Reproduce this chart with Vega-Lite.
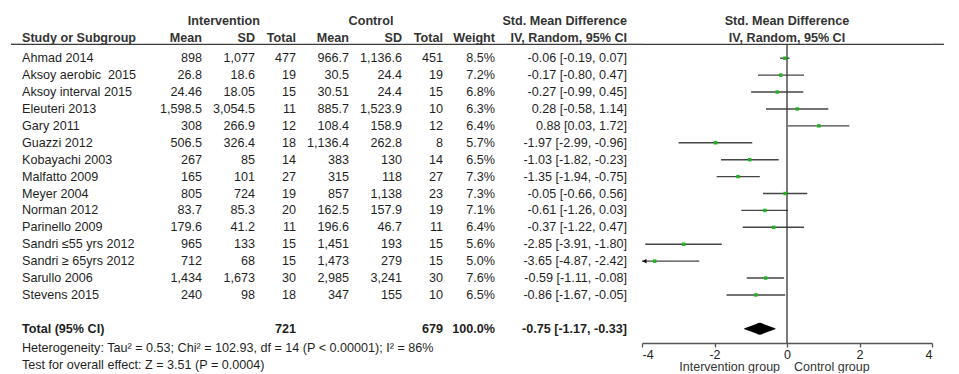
{
  "$schema": "https://vega.github.io/schema/vega-lite/v6.json",
  "description": "Forest plot: exercise intervention vs control, standardised mean difference (IV, random effects).",
  "background": "white",
  "padding": {"left": 10, "right": 16, "top": 0, "bottom": 0},
  "spacing": 0,
  "bounds": "flush",
  "config": {
    "view": {"stroke": null},
    "text": {"font": "Liberation Sans", "fontSize": 12.6, "color": "#1f1f1f"},
    "locale": {"number": {"decimal": ".", "thousands": ",", "grouping": [3], "currency": ["$", ""], "minus": "-"}}
  },
  "datasets": {
    "studies": [
      {"row": "Ahmad 2014", "im": 898, "isd": 1077, "itot": 477, "cm": 966.7, "csd": 1136.6, "ctot": 451, "weight": 8.5, "smd": -0.06, "lo": -0.19, "hi": 0.07},
      {"row": "Aksoy aerobic\u00a0 2015", "im": 26.8, "isd": 18.6, "itot": 19, "cm": 30.5, "csd": 24.4, "ctot": 19, "weight": 7.2, "smd": -0.17, "lo": -0.80, "hi": 0.47},
      {"row": "Aksoy interval 2015", "im": 24.46, "isd": 18.05, "itot": 15, "cm": 30.51, "csd": 24.4, "ctot": 15, "weight": 6.8, "smd": -0.27, "lo": -0.99, "hi": 0.45},
      {"row": "Eleuteri 2013", "im": 1598.5, "isd": 3054.5, "itot": 11, "cm": 885.7, "csd": 1523.9, "ctot": 10, "weight": 6.3, "smd": 0.28, "lo": -0.58, "hi": 1.14},
      {"row": "Gary 2011", "im": 308, "isd": 266.9, "itot": 12, "cm": 108.4, "csd": 158.9, "ctot": 12, "weight": 6.4, "smd": 0.88, "lo": 0.03, "hi": 1.72},
      {"row": "Guazzi 2012", "im": 506.5, "isd": 326.4, "itot": 18, "cm": 1136.4, "csd": 262.8, "ctot": 8, "weight": 5.7, "smd": -1.97, "lo": -2.99, "hi": -0.96},
      {"row": "Kobayachi 2003", "im": 267, "isd": 85, "itot": 14, "cm": 383, "csd": 130, "ctot": 14, "weight": 6.5, "smd": -1.03, "lo": -1.82, "hi": -0.23},
      {"row": "Malfatto 2009", "im": 165, "isd": 101, "itot": 27, "cm": 315, "csd": 118, "ctot": 27, "weight": 7.3, "smd": -1.35, "lo": -1.94, "hi": -0.75},
      {"row": "Meyer 2004", "im": 805, "isd": 724, "itot": 19, "cm": 857, "csd": 1138, "ctot": 23, "weight": 7.3, "smd": -0.05, "lo": -0.66, "hi": 0.56},
      {"row": "Norman 2012", "im": 83.7, "isd": 85.3, "itot": 20, "cm": 162.5, "csd": 157.9, "ctot": 19, "weight": 7.1, "smd": -0.61, "lo": -1.26, "hi": 0.03},
      {"row": "Parinello 2009", "im": 179.6, "isd": 41.2, "itot": 11, "cm": 196.6, "csd": 46.7, "ctot": 11, "weight": 6.4, "smd": -0.37, "lo": -1.22, "hi": 0.47},
      {"row": "Sandri ≤55 yrs 2012", "im": 965, "isd": 133, "itot": 15, "cm": 1451, "csd": 193, "ctot": 15, "weight": 5.6, "smd": -2.85, "lo": -3.91, "hi": -1.80},
      {"row": "Sandri ≥ 65yrs 2012", "im": 712, "isd": 68, "itot": 15, "cm": 1473, "csd": 279, "ctot": 15, "weight": 5.0, "smd": -3.65, "lo": -4.87, "hi": -2.42},
      {"row": "Sarullo 2006", "im": 1434, "isd": 1673, "itot": 30, "cm": 2985, "csd": 3241, "ctot": 30, "weight": 7.6, "smd": -0.59, "lo": -1.11, "hi": -0.08},
      {"row": "Stevens 2015", "im": 240, "isd": 98, "itot": 18, "cm": 347, "csd": 155, "ctot": 10, "weight": 6.5, "smd": -0.86, "lo": -1.67, "hi": -0.05}
    ],
    "pooled": [
      {"row": "Total (95% CI)", "itot": 721, "ctot": 679, "weight": 100.0, "smd": -0.75, "lo": -1.17, "hi": -0.33}
    ],
    "headers": [
      {"col": "study", "row": "h2", "label": "Study or Subgroup"},
      {"col": "im", "row": "h2", "label": "Mean"},
      {"col": "isd", "row": "h2", "label": "SD"},
      {"col": "isd", "row": "h1", "label": "Intervention"},
      {"col": "itot", "row": "h2", "label": "Total"},
      {"col": "cm", "row": "h2", "label": "Mean"},
      {"col": "csd", "row": "h2", "label": "SD"},
      {"col": "csd", "row": "h1", "label": "Control"},
      {"col": "ctot", "row": "h2", "label": "Total"},
      {"col": "weight", "row": "h2", "label": "Weight"},
      {"col": "ci", "row": "h1", "label": "Std. Mean Difference"},
      {"col": "ci", "row": "h2", "label": "IV, Random, 95% CI"},
      {"col": "plot", "row": "h1", "label": "Std. Mean Difference"},
      {"col": "plot", "row": "h2", "label": "IV, Random, 95% CI"}
    ],
    "notes": [
      {"row": "het", "label": "Heterogeneity: Tau² = 0.53; Chi² = 102.93, df = 14 (P < 0.00001); I² = 86%"},
      {"row": "test", "label": "Test for overall effect: Z = 3.51 (P = 0.0004)"}
    ]
  },
  "hconcat": [
    {
      "width": 11, "height": 343,
      "data": {"values": [{"row": "h2"}]},
      "mark": {"type": "rule", "yOffset": 3, "color": "#3c3c3c", "strokeWidth": 1.3},
      "encoding": {"y": {"field": "row", "type": "nominal", "axis": null, "scale": {"type": "point", "padding": 0, "range": [24.4, 362.6], "domain": ["h1", "h2", "Ahmad 2014", "Aksoy aerobic\u00a0 2015", "Aksoy interval 2015", "Eleuteri 2013", "Gary 2011", "Guazzi 2012", "Kobayachi 2003", "Malfatto 2009", "Meyer 2004", "Norman 2012", "Parinello 2009", "Sandri ≤55 yrs 2012", "Sandri ≥ 65yrs 2012", "Sarullo 2006", "Stevens 2015", "gap", "Total (95% CI)", "het", "test"]}}}
    },
    {
      "width": 121, "height": 343,
      "encoding": {"y": {"field": "row", "type": "nominal", "axis": null, "scale": {"type": "point", "padding": 0, "range": [24.4, 362.6], "domain": ["h1", "h2", "Ahmad 2014", "Aksoy aerobic\u00a0 2015", "Aksoy interval 2015", "Eleuteri 2013", "Gary 2011", "Guazzi 2012", "Kobayachi 2003", "Malfatto 2009", "Meyer 2004", "Norman 2012", "Parinello 2009", "Sandri ≤55 yrs 2012", "Sandri ≥ 65yrs 2012", "Sarullo 2006", "Stevens 2015", "gap", "Total (95% CI)", "het", "test"]}}},
      "layer": [
        {"data": {"name": "studies"}, "mark": {"type": "text", "align": "left"}, "encoding": {"x": {"value": 0}, "text": {"field": "row"}}},
        {"data": {"name": "pooled"}, "mark": {"type": "text", "align": "left", "fontWeight": "bold"}, "encoding": {"x": {"value": 0}, "text": {"field": "row"}}},
        {"data": {"name": "headers"}, "transform": [{"filter": "datum.col === 'study'"}], "mark": {"type": "text", "align": "left", "fontWeight": "bold", "color": "#333", "dy": -3}, "encoding": {"x": {"value": 0}, "text": {"field": "label"}}},
        {"data": {"name": "notes"}, "mark": {"type": "text", "align": "left", "dy": 2}, "encoding": {"x": {"value": 0}, "text": {"field": "label"}}},
        {"data": {"values": [{"row": "h2"}]}, "mark": {"type": "rule", "yOffset": 3, "color": "#3c3c3c", "strokeWidth": 1.3}}
      ]
    },
    {
      "width": 59, "height": 343,
      "encoding": {"y": {"field": "row", "type": "nominal", "axis": null, "scale": {"type": "point", "padding": 0, "range": [24.4, 362.6], "domain": ["h1", "h2", "Ahmad 2014", "Aksoy aerobic\u00a0 2015", "Aksoy interval 2015", "Eleuteri 2013", "Gary 2011", "Guazzi 2012", "Kobayachi 2003", "Malfatto 2009", "Meyer 2004", "Norman 2012", "Parinello 2009", "Sandri ≤55 yrs 2012", "Sandri ≥ 65yrs 2012", "Sarullo 2006", "Stevens 2015", "gap", "Total (95% CI)", "het", "test"]}}},
      "layer": [
        {"data": {"name": "studies"}, "mark": {"type": "text", "align": "right"}, "encoding": {"x": {"value": "width"}, "text": {"field": "im", "type": "quantitative", "format": ","}}},
        {"data": {"name": "headers"}, "transform": [{"filter": "datum.col === 'im'"}], "mark": {"type": "text", "align": "right", "fontWeight": "bold", "color": "#333", "dy": -3}, "encoding": {"x": {"value": "width"}, "text": {"field": "label"}}},
        {"data": {"values": [{"row": "h2"}]}, "mark": {"type": "rule", "yOffset": 3, "color": "#3c3c3c", "strokeWidth": 1.3}}
      ]
    },
    {
      "width": 53, "height": 343,
      "encoding": {"y": {"field": "row", "type": "nominal", "axis": null, "scale": {"type": "point", "padding": 0, "range": [24.4, 362.6], "domain": ["h1", "h2", "Ahmad 2014", "Aksoy aerobic\u00a0 2015", "Aksoy interval 2015", "Eleuteri 2013", "Gary 2011", "Guazzi 2012", "Kobayachi 2003", "Malfatto 2009", "Meyer 2004", "Norman 2012", "Parinello 2009", "Sandri ≤55 yrs 2012", "Sandri ≥ 65yrs 2012", "Sarullo 2006", "Stevens 2015", "gap", "Total (95% CI)", "het", "test"]}}},
      "layer": [
        {"data": {"name": "studies"}, "mark": {"type": "text", "align": "right"}, "encoding": {"x": {"value": "width"}, "text": {"field": "isd", "type": "quantitative", "format": ","}}},
        {"data": {"name": "headers"}, "transform": [{"filter": "datum.col === 'isd' && datum.row === 'h2'"}], "mark": {"type": "text", "align": "right", "fontWeight": "bold", "color": "#333", "dy": -3}, "encoding": {"x": {"value": "width"}, "text": {"field": "label"}}},
        {"data": {"name": "headers"}, "transform": [{"filter": "datum.col === 'isd' && datum.row === 'h1'"}], "mark": {"type": "text", "align": "center", "fontWeight": "bold", "color": "#333", "dy": -3, "dx": -4.7}, "encoding": {"text": {"field": "label"}}},
        {"data": {"values": [{"row": "h2"}]}, "mark": {"type": "rule", "yOffset": 3, "color": "#3c3c3c", "strokeWidth": 1.3}}
      ]
    },
    {
      "width": 41, "height": 343,
      "encoding": {"y": {"field": "row", "type": "nominal", "axis": null, "scale": {"type": "point", "padding": 0, "range": [24.4, 362.6], "domain": ["h1", "h2", "Ahmad 2014", "Aksoy aerobic\u00a0 2015", "Aksoy interval 2015", "Eleuteri 2013", "Gary 2011", "Guazzi 2012", "Kobayachi 2003", "Malfatto 2009", "Meyer 2004", "Norman 2012", "Parinello 2009", "Sandri ≤55 yrs 2012", "Sandri ≥ 65yrs 2012", "Sarullo 2006", "Stevens 2015", "gap", "Total (95% CI)", "het", "test"]}}},
      "layer": [
        {"data": {"name": "studies"}, "mark": {"type": "text", "align": "right"}, "encoding": {"x": {"value": "width"}, "text": {"field": "itot", "type": "quantitative", "format": ","}}},
        {"data": {"name": "pooled"}, "mark": {"type": "text", "align": "right", "fontWeight": "bold"}, "encoding": {"x": {"value": "width"}, "text": {"field": "itot", "type": "quantitative", "format": ","}}},
        {"data": {"name": "headers"}, "transform": [{"filter": "datum.col === 'itot'"}], "mark": {"type": "text", "align": "right", "fontWeight": "bold", "color": "#333", "dy": -3}, "encoding": {"x": {"value": "width"}, "text": {"field": "label"}}},
        {"data": {"values": [{"row": "h2"}]}, "mark": {"type": "rule", "yOffset": 3, "color": "#3c3c3c", "strokeWidth": 1.3}}
      ]
    },
    {
      "width": 53, "height": 343,
      "encoding": {"y": {"field": "row", "type": "nominal", "axis": null, "scale": {"type": "point", "padding": 0, "range": [24.4, 362.6], "domain": ["h1", "h2", "Ahmad 2014", "Aksoy aerobic\u00a0 2015", "Aksoy interval 2015", "Eleuteri 2013", "Gary 2011", "Guazzi 2012", "Kobayachi 2003", "Malfatto 2009", "Meyer 2004", "Norman 2012", "Parinello 2009", "Sandri ≤55 yrs 2012", "Sandri ≥ 65yrs 2012", "Sarullo 2006", "Stevens 2015", "gap", "Total (95% CI)", "het", "test"]}}},
      "layer": [
        {"data": {"name": "studies"}, "mark": {"type": "text", "align": "right"}, "encoding": {"x": {"value": "width"}, "text": {"field": "cm", "type": "quantitative", "format": ","}}},
        {"data": {"name": "headers"}, "transform": [{"filter": "datum.col === 'cm'"}], "mark": {"type": "text", "align": "right", "fontWeight": "bold", "color": "#333", "dy": -3}, "encoding": {"x": {"value": "width"}, "text": {"field": "label"}}},
        {"data": {"values": [{"row": "h2"}]}, "mark": {"type": "rule", "yOffset": 3, "color": "#3c3c3c", "strokeWidth": 1.3}}
      ]
    },
    {
      "width": 53, "height": 343,
      "encoding": {"y": {"field": "row", "type": "nominal", "axis": null, "scale": {"type": "point", "padding": 0, "range": [24.4, 362.6], "domain": ["h1", "h2", "Ahmad 2014", "Aksoy aerobic\u00a0 2015", "Aksoy interval 2015", "Eleuteri 2013", "Gary 2011", "Guazzi 2012", "Kobayachi 2003", "Malfatto 2009", "Meyer 2004", "Norman 2012", "Parinello 2009", "Sandri ≤55 yrs 2012", "Sandri ≥ 65yrs 2012", "Sarullo 2006", "Stevens 2015", "gap", "Total (95% CI)", "het", "test"]}}},
      "layer": [
        {"data": {"name": "studies"}, "mark": {"type": "text", "align": "right"}, "encoding": {"x": {"value": "width"}, "text": {"field": "csd", "type": "quantitative", "format": ","}}},
        {"data": {"name": "headers"}, "transform": [{"filter": "datum.col === 'csd' && datum.row === 'h2'"}], "mark": {"type": "text", "align": "right", "fontWeight": "bold", "color": "#333", "dy": -3}, "encoding": {"x": {"value": "width"}, "text": {"field": "label"}}},
        {"data": {"name": "headers"}, "transform": [{"filter": "datum.col === 'csd' && datum.row === 'h1'"}], "mark": {"type": "text", "align": "center", "fontWeight": "bold", "color": "#333", "dy": -3, "dx": -4.5}, "encoding": {"text": {"field": "label"}}},
        {"data": {"values": [{"row": "h2"}]}, "mark": {"type": "rule", "yOffset": 3, "color": "#3c3c3c", "strokeWidth": 1.3}}
      ]
    },
    {
      "width": 41, "height": 343,
      "encoding": {"y": {"field": "row", "type": "nominal", "axis": null, "scale": {"type": "point", "padding": 0, "range": [24.4, 362.6], "domain": ["h1", "h2", "Ahmad 2014", "Aksoy aerobic\u00a0 2015", "Aksoy interval 2015", "Eleuteri 2013", "Gary 2011", "Guazzi 2012", "Kobayachi 2003", "Malfatto 2009", "Meyer 2004", "Norman 2012", "Parinello 2009", "Sandri ≤55 yrs 2012", "Sandri ≥ 65yrs 2012", "Sarullo 2006", "Stevens 2015", "gap", "Total (95% CI)", "het", "test"]}}},
      "layer": [
        {"data": {"name": "studies"}, "mark": {"type": "text", "align": "right"}, "encoding": {"x": {"value": "width"}, "text": {"field": "ctot", "type": "quantitative", "format": ","}}},
        {"data": {"name": "pooled"}, "mark": {"type": "text", "align": "right", "fontWeight": "bold"}, "encoding": {"x": {"value": "width"}, "text": {"field": "ctot", "type": "quantitative", "format": ","}}},
        {"data": {"name": "headers"}, "transform": [{"filter": "datum.col === 'ctot'"}], "mark": {"type": "text", "align": "right", "fontWeight": "bold", "color": "#333", "dy": -3}, "encoding": {"x": {"value": "width"}, "text": {"field": "label"}}},
        {"data": {"values": [{"row": "h2"}]}, "mark": {"type": "rule", "yOffset": 3, "color": "#3c3c3c", "strokeWidth": 1.3}}
      ]
    },
    {
      "width": 52, "height": 343,
      "encoding": {"y": {"field": "row", "type": "nominal", "axis": null, "scale": {"type": "point", "padding": 0, "range": [24.4, 362.6], "domain": ["h1", "h2", "Ahmad 2014", "Aksoy aerobic\u00a0 2015", "Aksoy interval 2015", "Eleuteri 2013", "Gary 2011", "Guazzi 2012", "Kobayachi 2003", "Malfatto 2009", "Meyer 2004", "Norman 2012", "Parinello 2009", "Sandri ≤55 yrs 2012", "Sandri ≥ 65yrs 2012", "Sarullo 2006", "Stevens 2015", "gap", "Total (95% CI)", "het", "test"]}}},
      "layer": [
        {"data": {"name": "studies"}, "transform": [{"calculate": "format(datum.weight, '.1f') + '%'", "as": "wlabel"}], "mark": {"type": "text", "align": "right"}, "encoding": {"x": {"value": "width"}, "text": {"field": "wlabel"}}},
        {"data": {"name": "pooled"}, "transform": [{"calculate": "format(datum.weight, '.1f') + '%'", "as": "wlabel"}], "mark": {"type": "text", "align": "right", "fontWeight": "bold"}, "encoding": {"x": {"value": "width"}, "text": {"field": "wlabel"}}},
        {"data": {"name": "headers"}, "transform": [{"filter": "datum.col === 'weight'"}], "mark": {"type": "text", "align": "right", "fontWeight": "bold", "color": "#333", "dy": -3}, "encoding": {"x": {"value": "width"}, "text": {"field": "label"}}},
        {"data": {"values": [{"row": "h2"}]}, "mark": {"type": "rule", "yOffset": 3, "color": "#3c3c3c", "strokeWidth": 1.3}}
      ]
    },
    {
      "width": 132, "height": 343,
      "encoding": {"y": {"field": "row", "type": "nominal", "axis": null, "scale": {"type": "point", "padding": 0, "range": [24.4, 362.6], "domain": ["h1", "h2", "Ahmad 2014", "Aksoy aerobic\u00a0 2015", "Aksoy interval 2015", "Eleuteri 2013", "Gary 2011", "Guazzi 2012", "Kobayachi 2003", "Malfatto 2009", "Meyer 2004", "Norman 2012", "Parinello 2009", "Sandri ≤55 yrs 2012", "Sandri ≥ 65yrs 2012", "Sarullo 2006", "Stevens 2015", "gap", "Total (95% CI)", "het", "test"]}}},
      "layer": [
        {"data": {"name": "studies"}, "transform": [{"calculate": "format(datum.smd, '.2f') + ' [' + format(datum.lo, '.2f') + ', ' + format(datum.hi, '.2f') + ']'", "as": "cilabel"}], "mark": {"type": "text", "align": "right"}, "encoding": {"x": {"value": "width"}, "text": {"field": "cilabel"}}},
        {"data": {"name": "pooled"}, "transform": [{"calculate": "format(datum.smd, '.2f') + ' [' + format(datum.lo, '.2f') + ', ' + format(datum.hi, '.2f') + ']'", "as": "cilabel"}], "mark": {"type": "text", "align": "right", "fontWeight": "bold"}, "encoding": {"x": {"value": "width"}, "text": {"field": "cilabel"}}},
        {"data": {"name": "headers"}, "transform": [{"filter": "datum.col === 'ci'"}], "mark": {"type": "text", "align": "right", "fontWeight": "bold", "color": "#333", "dy": -3}, "encoding": {"x": {"value": "width"}, "text": {"field": "label"}}},
        {"data": {"values": [{"row": "h2"}]}, "mark": {"type": "rule", "yOffset": 3, "color": "#3c3c3c", "strokeWidth": 1.3}}
      ]
    },
    {
      "width": 15, "height": 343,
      "data": {"values": [{"row": "h2"}]},
      "mark": {"type": "rule", "yOffset": 3, "color": "#3c3c3c", "strokeWidth": 1.3},
      "encoding": {"y": {"field": "row", "type": "nominal", "axis": null, "scale": {"type": "point", "padding": 0, "range": [24.4, 362.6], "domain": ["h1", "h2", "Ahmad 2014", "Aksoy aerobic\u00a0 2015", "Aksoy interval 2015", "Eleuteri 2013", "Gary 2011", "Guazzi 2012", "Kobayachi 2003", "Malfatto 2009", "Meyer 2004", "Norman 2012", "Parinello 2009", "Sandri ≤55 yrs 2012", "Sandri ≥ 65yrs 2012", "Sarullo 2006", "Stevens 2015", "gap", "Total (95% CI)", "het", "test"]}}}
    },
    {
      "width": 290, "height": 343,
      "encoding": {"y": {"field": "row", "type": "nominal", "axis": null, "scale": {"type": "point", "padding": 0, "range": [24.4, 362.6], "domain": ["h1", "h2", "Ahmad 2014", "Aksoy aerobic\u00a0 2015", "Aksoy interval 2015", "Eleuteri 2013", "Gary 2011", "Guazzi 2012", "Kobayachi 2003", "Malfatto 2009", "Meyer 2004", "Norman 2012", "Parinello 2009", "Sandri ≤55 yrs 2012", "Sandri ≥ 65yrs 2012", "Sarullo 2006", "Stevens 2015", "gap", "Total (95% CI)", "het", "test"]}}},
      "layer": [
        {"data": {"name": "headers"}, "transform": [{"filter": "datum.col === 'plot'"}], "mark": {"type": "text", "align": "center", "fontWeight": "bold", "color": "#333", "dy": -3}, "encoding": {"text": {"field": "label"}}},
        {"data": {"values": [{"row": "h2"}]}, "mark": {"type": "rule", "yOffset": 3, "color": "#3c3c3c", "strokeWidth": 1.3}},
        {
          "data": {"name": "studies"},
          "mark": {"type": "rule", "color": "#444", "strokeWidth": 1.4},
          "encoding": {
            "x": {"field": "lo", "type": "quantitative", "scale": {"domain": [-4, 4], "nice": false, "zero": false, "clamp": true},
              "axis": {"values": [-4, -2, 0, 2, 4], "format": "d", "grid": false, "labelFlush": true,
                "domainColor": "#555", "domainWidth": 1.5, "tickColor": "#555", "tickWidth": 1.3, "tickSize": 4,
                "labelFont": "Liberation Sans", "labelFontSize": 12.5, "labelColor": "#222", "labelPadding": 1,
                "title": "Intervention group\u00a0\u00a0\u00a0 Control group", "titleX": 132, "titleAlign": "center",
                "titleFont": "Liberation Sans", "titleFontSize": 12.5, "titleFontWeight": "normal", "titleColor": "#333", "titlePadding": 0}},
            "x2": {"field": "hi"}
          }
        },
        {
          "data": {"values": [{"row": "h2"}]},
          "mark": {"type": "rule", "color": "#333", "strokeWidth": 1.3, "yOffset": 3},
          "encoding": {
            "x": {"datum": 0, "type": "quantitative"},
            "y2": {"value": "height"}
          }
        },
        {
          "data": {"name": "studies"},
          "mark": {"type": "point", "shape": "square", "filled": true, "size": 12, "color": "#1fb51f", "opacity": 1},
          "encoding": {"x": {"field": "smd", "type": "quantitative"}}
        },
        {
          "data": {"name": "studies"},
          "transform": [{"filter": "datum.lo < -4"}],
          "mark": {"type": "point", "shape": "triangle-left", "filled": true, "size": 22, "color": "#111", "opacity": 1, "xOffset": 2.5},
          "encoding": {"x": {"field": "lo", "type": "quantitative"}}
        },
        {
          "data": {"name": "pooled"},
          "transform": [{"fold": ["lo", "smd", "hi"]}],
          "mark": {"type": "trail", "color": "#000"},
          "encoding": {
            "x": {"field": "value", "type": "quantitative"},
            "size": {"condition": {"test": "datum.key === 'smd'", "value": 12}, "value": 0}
          }
        }
      ]
    },
    {
      "width": 12, "height": 343,
      "data": {"values": [{"row": "h2"}]},
      "mark": {"type": "rule", "yOffset": 3, "color": "#3c3c3c", "strokeWidth": 1.3},
      "encoding": {"y": {"field": "row", "type": "nominal", "axis": null, "scale": {"type": "point", "padding": 0, "range": [24.4, 362.6], "domain": ["h1", "h2", "Ahmad 2014", "Aksoy aerobic\u00a0 2015", "Aksoy interval 2015", "Eleuteri 2013", "Gary 2011", "Guazzi 2012", "Kobayachi 2003", "Malfatto 2009", "Meyer 2004", "Norman 2012", "Parinello 2009", "Sandri ≤55 yrs 2012", "Sandri ≥ 65yrs 2012", "Sarullo 2006", "Stevens 2015", "gap", "Total (95% CI)", "het", "test"]}}}
    }
  ]
}
